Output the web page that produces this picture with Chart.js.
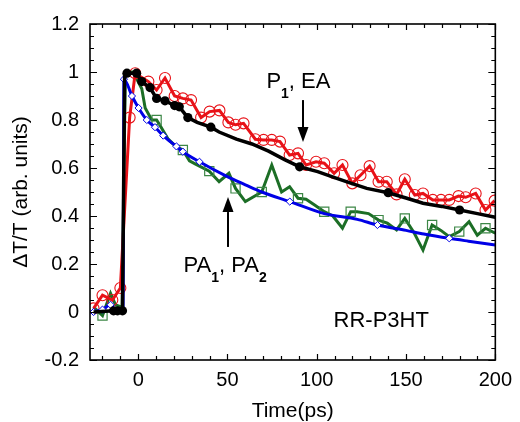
<!DOCTYPE html>
<html><head><meta charset="utf-8">
<script src="https://cdn.jsdelivr.net/npm/chart.js@4.4.1/dist/chart.umd.min.js"></script>
<style>html,body{margin:0;padding:0;background:#fff;}#wrap{width:520px;height:422px;}</style>
</head><body><div id="wrap"><canvas id="c" width="520" height="422"></canvas></div>
<script>
// ---- data ----
const xTickValues = [0, 50, 100, 150, 200];
const yTickValues = [-0.2, 0, 0.2, 0.4, 0.6, 0.8, 1, 1.2];

const redT = [-25,-20,-14.5,-10,-4.8,-1.7,5.7,10.3,15,20.4,25,29.6,35.2,40,45.5,50.5,54.5,59,65.6,70.2,74.8,79.4,84.8,89.5,94,99.6,104.2,109.7,114.4,119.9,124.5,129.6,134.6,139.2,144.7,149.3,154.9,159.5,165,169.6,174.2,179.4,183.4,189,194.5,199.6];
const redV = [0.015,0.07,0.05,0.10,0.81,0.995,0.96,0.925,0.975,0.90,0.89,0.883,0.81,0.835,0.84,0.79,0.78,0.786,0.72,0.717,0.717,0.71,0.654,0.661,0.6125,0.626,0.62,0.578,0.6125,0.536,0.57,0.608,0.543,0.543,0.49,0.553,0.4875,0.494,0.467,0.467,0.467,0.483,0.478,0.494,0.425,0.464];

const blackLineT = [-25,-13.8,-11.6,-8.8,-7.6,-6.3,-0.9,2,6.6,10.3,15,20.4,23,27.8,33,40.7,45.3,55,63.7,73,82,90.4,100.5,110,119,128,140,150,159.5,170,180,190,200];
const blackLineV = [0,0.005,0.005,0.005,0.99,0.995,0.995,0.96,0.935,0.89,0.88,0.86,0.855,0.81,0.79,0.77,0.75,0.72,0.70,0.67,0.635,0.605,0.585,0.56,0.537,0.515,0.497,0.475,0.453,0.44,0.425,0.41,0.395];
const blackDotT = [-13.8,-11.6,-8.8,-6.3,-0.9,2,6.6,10.3,15,20.4,23,27.8,40.7,90.4,140,180];
const blackDotV = [0.005,0.005,0.005,0.995,0.995,0.96,0.935,0.89,0.88,0.86,0.855,0.81,0.77,0.605,0.497,0.425];

const greenLineT = [-25,-20,-15.5,-12.7,-9,-7.2,-2.8,2,3.9,7.6,10.3,12,16.8,21,25,28.7,32.4,39.8,45.3,50.8,54.5,60,69.2,74.8,80.3,84.8,89.5,94,99,104.2,109,114.4,119,122.6,129,134.6,139.5,144.7,149.3,154.5,159.5,164.6,169.5,174.2,179.8,185.3,189.9,194.5,200];
const greenLineV = [0.02,-0.015,0.078,0.03,0.02,1.0,1.0,0.93,0.85,0.80,0.80,0.78,0.72,0.69,0.675,0.63,0.615,0.587,0.543,0.578,0.515,0.46,0.50,0.6125,0.50,0.522,0.474,0.47,0.445,0.418,0.40,0.349,0.418,0.418,0.41,0.383,0.37,0.342,0.39,0.33,0.258,0.3625,0.34,0.314,0.335,0.376,0.32,0.349,0.328];
const greenSquareT = [-20,10.3,25,39.8,54.5,69.2,89.5,104.2,119,134.6,149.3,164.6,179.8,194.5];
const greenSquareV = [-0.015,0.80,0.675,0.587,0.515,0.50,0.474,0.418,0.418,0.383,0.39,0.3625,0.335,0.349];

const blueLineT = [-25,-20,-15.5,-12,-8.5,-8,-3.5,0.2,4.8,9.4,14,21.4,25,34.3,49.9,60,69.2,84.9,104.2,122.7,134,150,160,174.2,185,200];
const blueLineV = [0,0.01,0.03,0,0,0.97,0.90,0.85,0.80,0.77,0.735,0.69,0.668,0.626,0.564,0.53,0.50,0.46,0.41,0.386,0.3625,0.34,0.325,0.307,0.295,0.279];
const blueDiamondT = [-25,-20,-15.5,-8,-3.5,0.2,4.8,9.4,14,21.4,25,34.3,84.9,134,174.2];
const blueDiamondV = [0,0.01,0.03,0.97,0.90,0.85,0.80,0.77,0.735,0.69,0.668,0.626,0.46,0.3625,0.307];

// ---- helpers ----
const pts = (T, V) => T.map((t, i) => ({x: t, y: V[i]}));
const FONT = "'Liberation Sans', Arial, Helvetica, sans-serif";
const RED = 'rgb(232,18,24)', GREEN = 'rgb(28,110,38)', GREEN2 = 'rgb(60,135,70)', BLUE = 'rgb(0,0,230)';

const annotations = {
  labels: [
    {t: 71.8, v: 0.933, parts: [['P',0],['1',1],[', EA',0]]},
    {t: 25.4, v: 0.167, parts: [['PA',0],['1',1],[', PA',0],['2',1]]},
    {t: 109.4, v: -0.0625, parts: [['RR-P3HT',0]]}
  ],
  arrows: [
    {t: 92.3, from: 0.883, to: 0.708},
    {t: 50.3, from: 0.271, to: 0.479}
  ]
};

const decor = {
  id: 'decor',
  afterDraw(chart) {
    const {ctx, chartArea: a, scales: {x, y}} = chart;
    ctx.save();
    ctx.strokeStyle = '#000';
    ctx.lineWidth = 1.2;
    ctx.beginPath();
    for (let t = -20; t <= 200; t += 10) {
      const px = Math.round(x.getPixelForValue(t)) + 0.5;
      const L = (t % 50 === 0) ? 6 : 4;
      ctx.moveTo(px, a.bottom); ctx.lineTo(px, a.bottom - L);
      ctx.moveTo(px, a.top); ctx.lineTo(px, a.top + L);
    }
    for (let k = -4; k <= 24; k++) {
      const py = Math.round(y.getPixelForValue(k * 0.05)) + 0.5;
      const L = (k % 4 === 0) ? 7 : 4;
      ctx.moveTo(a.left, py); ctx.lineTo(a.left + L, py);
      ctx.moveTo(a.right, py); ctx.lineTo(a.right - L, py);
    }
    ctx.stroke();
    ctx.lineWidth = 1.6;
    ctx.strokeRect(a.left, a.top, a.right - a.left, a.bottom - a.top);

    // arrows
    ctx.fillStyle = '#000';
    ctx.lineWidth = 2;
    annotations.arrows.forEach(ar => {
      const px = x.getPixelForValue(ar.t);
      const y0 = y.getPixelForValue(ar.from), y1 = y.getPixelForValue(ar.to);
      const dir = Math.sign(y1 - y0);
      const head = 15, hw = 5.5;
      ctx.beginPath(); ctx.moveTo(px, y0); ctx.lineTo(px, y1 - dir * head); ctx.stroke();
      ctx.beginPath(); ctx.moveTo(px, y1); ctx.lineTo(px - hw, y1 - dir * head); ctx.lineTo(px + hw, y1 - dir * head); ctx.closePath(); ctx.fill();
    });

    // labels
    ctx.textBaseline = 'alphabetic';
    ctx.textAlign = 'left';
    annotations.labels.forEach(lb => {
      let px = x.getPixelForValue(lb.t);
      const py = y.getPixelForValue(lb.v);
      lb.parts.forEach(([txt, sub]) => {
        ctx.font = sub ? `bold 14px ${FONT}` : `22px ${FONT}`;
        ctx.fillText(txt, px, sub ? py + 10 : py);
        px += ctx.measureText(txt).width;
      });
    });
    ctx.restore();
  }
};

new Chart(document.getElementById('c'), {
  type: 'scatter',
  data: {
    datasets: [
      {label: 'black dots', data: pts(blackDotT, blackDotV), showLine: false, pointRadius: 4.6, pointBackgroundColor: '#000', pointBorderColor: '#000', pointBorderWidth: 0, order: 1},
      {label: 'black', data: pts(blackLineT, blackLineV), showLine: true, borderColor: '#000', borderWidth: 3.5, pointRadius: 0, order: 2},
      {label: 'blue diamonds', data: pts(blueDiamondT, blueDiamondV), showLine: false, pointStyle: 'rectRot', pointRadius: 3.6, pointBackgroundColor: '#fff', pointBorderColor: BLUE, pointBorderWidth: 1, order: 3},
      {label: 'blue', data: pts(blueLineT, blueLineV), showLine: true, borderColor: BLUE, borderWidth: 3, pointRadius: 0, cubicInterpolationMode: 'monotone', order: 4},
      {label: 'red', data: pts(redT, redV), showLine: true, borderColor: RED, borderWidth: 3, pointStyle: 'circle', pointRadius: 5.5, pointBackgroundColor: 'rgba(0,0,0,0)', pointBorderColor: RED, pointBorderWidth: 1.1, order: 5},
      {label: 'green squares', data: pts(greenSquareT, greenSquareV), showLine: false, pointStyle: 'rect', pointRadius: 6.5, pointBackgroundColor: 'rgba(0,0,0,0)', pointBorderColor: GREEN2, pointBorderWidth: 1.2, order: 6},
      {label: 'green', data: pts(greenLineT, greenLineV), showLine: true, borderColor: GREEN, borderWidth: 3, pointRadius: 0, order: 7}
    ]
  },
  options: {
    responsive: false,
    animation: false,
    devicePixelRatio: 1,
    layout: {padding: {top: 24, right: 20, left: 0, bottom: 0}},
    plugins: {legend: {display: false}, tooltip: {enabled: false}},
    scales: {
      x: {
        type: 'linear', min: -27, max: 200,
        afterBuildTicks: s => { s.ticks = xTickValues.map(v => ({value: v})); },
        afterFit: s => { s.height = 62; },
        grid: {display: false, drawTicks: false},
        border: {display: false},
        ticks: {padding: 8, color: '#000', maxRotation: 0, autoSkip: false, font: {family: FONT, size: 20}, callback: v => String(v)},
        title: {display: true, text: 'Time(ps)', color: '#000', font: {family: FONT, size: 21, lineHeight: 1}, padding: {top: 0, bottom: 0}}
      },
      y: {
        type: 'linear', min: -0.2, max: 1.2,
        afterBuildTicks: s => { s.ticks = yTickValues.map(v => ({value: v})); },
        afterFit: s => { s.width = 90; },
        grid: {display: false, drawTicks: false},
        border: {display: false},
        ticks: {padding: 11, color: '#000', autoSkip: false, font: {family: FONT, size: 20}, callback: v => String(Math.round(v * 10) / 10)},
        title: {display: true, text: 'ΔT/T (arb. units)', color: '#000', font: {family: FONT, size: 21, lineHeight: 1}, padding: {top: 11, bottom: 0}}
      }
    }
  },
  plugins: [decor]
});
</script>
</body></html>
